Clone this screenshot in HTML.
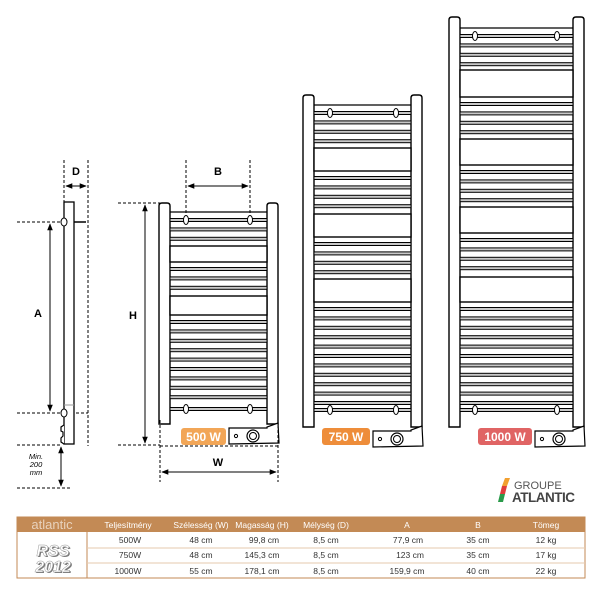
<!DOCTYPE html>
<html><head><meta charset="utf-8">
<style>
html,body{margin:0;padding:0;background:#fff;}
body{width:600px;height:600px;overflow:hidden;font-family:"Liberation Sans",sans-serif;}
svg{display:block}
text{font-family:"Liberation Sans",sans-serif;}
</style></head>
<body>
<svg id="s" width="600" height="600" viewBox="0 0 600 600" xmlns="http://www.w3.org/2000/svg">
<defs>
<marker id="ar" viewBox="0 0 10 10" refX="9" refY="5" markerWidth="7" markerHeight="7" orient="auto-start-reverse"><path d="M0,1 L10,5 L0,9 z" fill="#000"/></marker>
</defs>
<g id="rads"></g>

<!-- side view -->
<g stroke="#000" fill="none" stroke-width="1">
<rect x="64" y="202" width="10" height="242" fill="#fff" stroke-width="1.3"/>
<line x1="64" y1="405" x2="74" y2="405" stroke="#999"/>
<path d="M64,425 l-3,2 l0,4 l2,1 l0,4 l-2,2 l0,4 l3,2" stroke-width="1.2" fill="#fff"/>
<ellipse cx="64" cy="222" rx="3" ry="4" fill="#fff"/>
<ellipse cx="64" cy="413" rx="3" ry="4" fill="#fff"/>
<line x1="74" y1="222" x2="86" y2="222" stroke-width="1.5"/>
<g stroke-dasharray="3,2">
<line x1="64" y1="160" x2="64" y2="202"/>
<line x1="88" y1="160" x2="88" y2="446"/>
<line x1="17" y1="222" x2="62" y2="222"/>
<line x1="17" y1="413" x2="62" y2="413"/>
<line x1="76" y1="413" x2="88" y2="413"/>
<line x1="17" y1="445" x2="62" y2="445"/>
<line x1="17" y1="488" x2="72" y2="488"/>
<line x1="118" y1="203" x2="160" y2="203"/>
<line x1="118" y1="445" x2="160" y2="445"/>
<line x1="186" y1="160" x2="186" y2="216"/>
<line x1="250" y1="160" x2="250" y2="216"/>
<line x1="160" y1="420" x2="160" y2="482"/>
<line x1="278" y1="425" x2="278" y2="482"/>
<line x1="160" y1="446" x2="278" y2="446"/>
</g>
<line x1="66" y1="186" x2="86" y2="186" marker-start="url(#ar)" marker-end="url(#ar)"/>
<line x1="50" y1="224" x2="50" y2="411" marker-start="url(#ar)" marker-end="url(#ar)"/>
<line x1="61" y1="447" x2="61" y2="486" marker-start="url(#ar)" marker-end="url(#ar)"/>
<line x1="145" y1="205" x2="145" y2="443" marker-start="url(#ar)" marker-end="url(#ar)"/>
<line x1="188" y1="186" x2="248" y2="186" marker-start="url(#ar)" marker-end="url(#ar)"/>
<line x1="162" y1="472" x2="276" y2="472" marker-start="url(#ar)" marker-end="url(#ar)"/>
</g>
<g font-weight="bold" font-size="11" text-anchor="middle">
<text x="76" y="175">D</text>
<text x="38" y="317">A</text>
<text x="133" y="319">H</text>
<text x="218" y="175">B</text>
<text x="218" y="466">W</text>
</g>
<g font-style="italic" font-size="7.5" text-anchor="middle">
<text x="36" y="459">Min.</text>
<text x="36" y="467">200</text>
<text x="36" y="475">mm</text>
</g>

<rect x="181" y="428" width="45" height="17" rx="3" fill="#f2a657"/>
<text x="203.5" y="441" font-size="12" font-weight="bold" fill="#fff" text-anchor="middle">500 W</text>
<rect x="322" y="428" width="48" height="17" rx="3" fill="#ee8d3a"/>
<text x="346" y="441" font-size="12" font-weight="bold" fill="#fff" text-anchor="middle">750 W</text>
<rect x="478" y="428" width="54" height="17" rx="3" fill="#e06464"/>
<text x="505" y="441" font-size="12" font-weight="bold" fill="#fff" text-anchor="middle">1000 W</text>

<polygon points="505,478 510,478 507,486 502,486" fill="#f2a030"/>
<polygon points="502,486 507,486 505,494 500,494" fill="#e03c3c"/>
<polygon points="500,494 505,494 503,502 498,502" fill="#2a9a4a"/>
<text x="514" y="489" font-size="11" fill="#555">GROUPE</text>
<text x="512" y="502" font-size="13.5" font-weight="bold" fill="#444" letter-spacing="-0.5">ATLANTIC</text>

<rect x="17" y="517" width="568" height="61" fill="#fff" stroke="#c38a55" stroke-width="1"/>
<rect x="17" y="517" width="568" height="15" fill="#c38a55"/>
<line x1="87" y1="532" x2="87" y2="578" stroke="#c38a55"/>
<line x1="87" y1="548" x2="585" y2="548" stroke="#e6c9ad"/>
<line x1="87" y1="563" x2="585" y2="563" stroke="#e6c9ad"/>
<text x="52" y="529" font-size="13" fill="#e8d2bd" text-anchor="middle">atlantic</text>
<g font-size="8.5" fill="#fff" text-anchor="middle">
<text x="128" y="528">Teljesítmény</text>
<text x="201" y="528">Szélesség (W)</text>
<text x="262" y="528">Magasság (H)</text>
<text x="326" y="528">Mélység (D)</text>
<text x="407" y="528">A</text>
<text x="478" y="528">B</text>
<text x="546" y="528">Tömeg</text>
</g>
<g font-size="8.5" fill="#333" text-anchor="middle">
<text x="130" y="543">500W</text><text x="201" y="543">48 cm</text><text x="264" y="543">99,8 cm</text><text x="326" y="543">8,5 cm</text><text x="408" y="543">77,9 cm</text><text x="478" y="543">35 cm</text><text x="546" y="543">12 kg</text>
<text x="130" y="558">750W</text><text x="201" y="558">48 cm</text><text x="262" y="558">145,3 cm</text><text x="326" y="558">8,5 cm</text><text x="410" y="558">123 cm</text><text x="478" y="558">35 cm</text><text x="546" y="558">17 kg</text>
<text x="128" y="574">1000W</text><text x="201" y="574">55 cm</text><text x="262" y="574">178,1 cm</text><text x="326" y="574">8,5 cm</text><text x="407" y="574">159,9 cm</text><text x="478" y="574">40 cm</text><text x="546" y="574">22 kg</text>
</g>
<g font-size="16" font-weight="bold" font-style="italic" text-anchor="middle">
<text x="53" y="556" fill="#777" transform="translate(1.2,1.2)">RSS</text>
<text x="53" y="572" fill="#777" transform="translate(1.2,1.2)">2012</text>
<text x="53" y="556" fill="#fff" stroke="#999" stroke-width="0.5">RSS</text>
<text x="53" y="572" fill="#fff" stroke="#999" stroke-width="0.5">2012</text>
</g>
</svg>
<script>
(function(){
var NS="http://www.w3.org/2000/svg",g=document.getElementById("rads");
function el(t,a){var e=document.createElementNS(NS,t);for(var k in a)e.setAttribute(k,a[k]);g.appendChild(e);return e;}
function rad(L,R,top,bot,holeTop,holeBot,panels,hx1,hx2){
 var iL=L+11,iR=R-11;
 el("path",{d:"M"+L+","+bot+" L"+L+","+(top+3)+" Q"+L+","+top+" "+(L+3)+","+top+" L"+(iL-3)+","+top+" Q"+iL+","+top+" "+iL+","+(top+3)+" L"+iL+","+bot+" Z",fill:"#fff",stroke:"#000","stroke-width":"1.4"});
 el("path",{d:"M"+iR+","+bot+" L"+iR+","+(top+3)+" Q"+iR+","+top+" "+(iR+3)+","+top+" L"+(R-3)+","+top+" Q"+R+","+top+" "+R+","+(top+3)+" L"+R+","+bot+" Z",fill:"#fff",stroke:"#000","stroke-width":"1.4"});
 el("line",{x1:iL,y1:holeTop-8,x2:iR,y2:holeTop-8,stroke:"#000","stroke-width":"1.2"});
 function bar(y){el("rect",{x:iL,y:y-1.5,width:iR-iL,height:3,fill:"#c8c8c8",stroke:"#000","stroke-width":"1"});}
 bar(holeTop);bar(holeBot);
 [hx1,hx2].forEach(function(x){el("ellipse",{cx:x,cy:holeTop,rx:2.5,ry:4.5,fill:"#fff",stroke:"#000","stroke-width":"1"});el("ellipse",{cx:x,cy:holeBot,rx:2.5,ry:4.5,fill:"#fff",stroke:"#000","stroke-width":"1"});});
 var y=holeTop+9.4;
 panels.forEach(function(p){
  while(y<p[0]-4){bar(y);y+=9.4;}
  el("rect",{x:iL,y:p[0],width:iR-iL,height:p[1]-p[0],fill:"#fff",stroke:"#000","stroke-width":"1.4"});
  y=p[1]+7;
 });
 while(y<holeBot-6){bar(y);y+=9.4;}
 var bx=iR-38,by=bot+3;
 el("path",{d:"M"+bx+","+(by+1)+" L"+(iR)+","+(by+1)+" L"+(iR)+","+by+" L"+R+","+(by-4)+" L"+(R+1)+","+(by+16)+" L"+bx+","+(by+17)+" Z",fill:"#fff",stroke:"#000","stroke-width":"1.2"});
 el("circle",{cx:bx+7,cy:by+9,r:1.6,fill:"none",stroke:"#000","stroke-width":"1"});
 el("circle",{cx:bx+24,cy:by+9,r:6,fill:"#fff",stroke:"#000","stroke-width":"1.2"});
 el("circle",{cx:bx+24,cy:by+9,r:3.5,fill:"#fff",stroke:"#000","stroke-width":"1"});
}
rad(159,278,203,424,220,409,[[246,262],[296,315]],186,250);
rad(303,422,95,427,113,410,[[148,171],[214,237],[279,302]],330,396);
rad(449,584,17,427,36,410,[[70,97],[139,165],[207,233],[277,302]],475,557);
})();
</script>
</body></html>
